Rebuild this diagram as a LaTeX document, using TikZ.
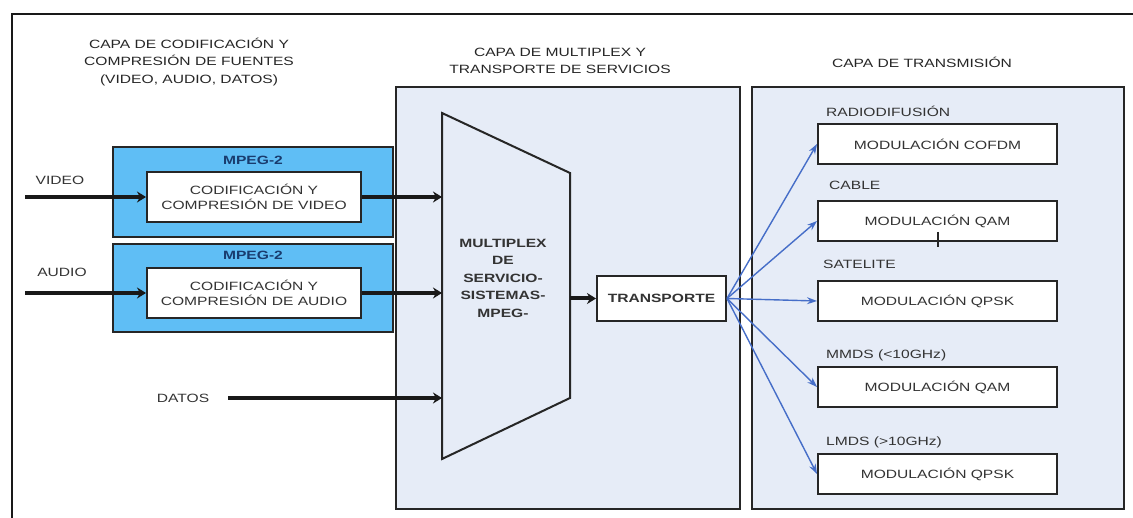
\documentclass[tikz,border=0pt]{standalone}
\usepackage{fontspec}
\setmainfont{Liberation Sans}[FakeStretch=1.3]
\usetikzlibrary{positioning,arrows.meta}

\definecolor{mpegblue}{RGB}{95,190,245}
\definecolor{panelfill}{RGB}{230,236,247}
\definecolor{linkblue}{RGB}{70,110,200}
\definecolor{mpegtext}{RGB}{25,60,110}

\begin{document}
\begin{tikzpicture}[x=1pt,y=-1pt,
    title/.style={font=\fontsize{12}{17.5}\selectfont, text=black!85, align=center},
    panel/.style={draw=black!85, line width=2pt, fill=panelfill},
    mpeg/.style={draw=black!85, line width=2pt, fill=mpegblue, minimum width=280pt},
    mpeglbl/.style={font=\bfseries\fontsize{12}{14}\selectfont, text=mpegtext, inner sep=0pt},
    block/.style={draw=black!85, line width=2pt, fill=white, font=\fontsize{12}{15}\selectfont, align=center, text=black!80},
    codbox/.style={block, minimum width=214pt, minimum height=50pt},
    modbox/.style={block, minimum width=239pt, minimum height=40pt},
    lbl/.style={font=\fontsize{12}{15}\selectfont, text=black!80, inner sep=1pt},
    fat/.style={draw=black!90, line width=4pt, -{Stealth[length=9pt,width=11pt]}},
    fan/.style={draw=linkblue, line width=1.4pt, -{Stealth[length=10pt,width=7pt]}}]
  \useasboundingbox (0,0) rectangle (1133,518);
  \draw[line width=2.5pt, black!90] (12,518) -- (12,14) -- (1133,14);

  \node [title] (t_cod) at (189,62) {CAPA DE CODIFICACIÓN Y\\COMPRESIÓN DE FUENTES\\(VIDEO, AUDIO, DATOS)};
  \node [title] (t_mux) at (560,61) {CAPA DE MULTIPLEX Y\\TRANSPORTE DE SERVICIOS};
  \node [title] (t_tx) at (922,62) {CAPA DE TRANSMISIÓN};

  \node [panel, minimum width=344pt, minimum height=422pt] (p_mux) at (568,298) {};
  \node [panel, minimum width=372pt, minimum height=422pt] (p_tx) at (938,298) {};

  \node [mpeg, minimum height=90pt] (mpeg_v) at (253,192) {};
  \node [mpeg, minimum height=88pt] (mpeg_a) at (253,288) {};
  \node [mpeglbl, below=10pt of mpeg_v.north] (m_v) {MPEG-2};
  \node [mpeglbl, below=8pt of mpeg_a.north] (m_a) {MPEG-2};
  \node [codbox] (cod_v) at (254,197) {CODIFICACIÓN Y\\COMPRESIÓN DE VIDEO};
  \node [codbox] (cod_a) at (254,293) {CODIFICACIÓN Y\\COMPRESIÓN DE AUDIO};

  \node [lbl] (vid) at (60,180) {VIDEO};
  \node [lbl] (aud) at (62,272) {AUDIO};
  \node [lbl] (dat) at (183,398) {DATOS};
  \coordinate (vid_in) at (25,197);
  \coordinate (aud_in) at (25,293);
  \coordinate (dat_in) at (228,398);

  \draw [draw=black!85, line width=2pt, fill=panelfill] (442,113) -- (570,173) -- (570,398) -- (442,459) -- cycle;
  \coordinate (mux_l) at (442,298);
  \coordinate (mux_r) at (570,298.5);
  \node [font=\bfseries\fontsize{12}{17.5}\selectfont, text=black!80, align=center] (mux) at (503,278) {MULTIPLEX\\DE\\SERVICIO-\\SISTEMAS-\\MPEG-};
  \node [block, font=\bfseries\fontsize{12}{15}\selectfont, minimum width=129pt, minimum height=45pt] (tr) at (661.5,298.5) {TRANSPORTE};

  \node [modbox] (mod_1) at (937.5,144) {MODULACIÓN COFDM};
  \node [modbox, below=35pt of mod_1] (mod_2) {MODULACIÓN QAM};
  \node [modbox, below=38pt of mod_2] (mod_3) {MODULACIÓN QPSK};
  \node [modbox, below=44pt of mod_3] (mod_4) {MODULACIÓN QAM};
  \node [modbox, below=45pt of mod_4] (mod_5) {MODULACIÓN QPSK};
  \node [lbl, anchor=south west] (l_1) at ([xshift=8pt, yshift=5pt]mod_1.north west) {RADIODIFUSIÓN};
  \node [lbl, anchor=south west] (l_2) at ([xshift=11pt, yshift=9pt]mod_2.north west) {CABLE};
  \node [lbl, anchor=south west] (l_3) at ([xshift=5pt, yshift=10pt]mod_3.north west) {SATELITE};
  \node [lbl, anchor=south west] (l_4) at ([xshift=8pt, yshift=4pt]mod_4.north west) {MMDS (<10GHz)};
  \node [lbl, anchor=south west] (l_5) at ([xshift=8pt, yshift=4pt]mod_5.north west) {LMDS (>10GHz)};
  \draw [line width=1.5pt, black!85] (938,232) -- (938,247);

  \draw [fat] (vid_in) -- (cod_v);
  \draw [fat] (aud_in) -- (cod_a);
  \draw [fat] (cod_v) -- (cod_v -| mux_l);
  \draw [fat] (cod_a) -- (cod_a -| mux_l);
  \draw [fat] (dat_in) -- (dat_in -| mux_l);
  \draw [fat] (mux_r) -- (tr);
  \foreach \m in {mod_1,mod_2,mod_3,mod_4,mod_5}
    \draw [fan] (tr.east) -- (\m.west);
\end{tikzpicture}
\end{document}
